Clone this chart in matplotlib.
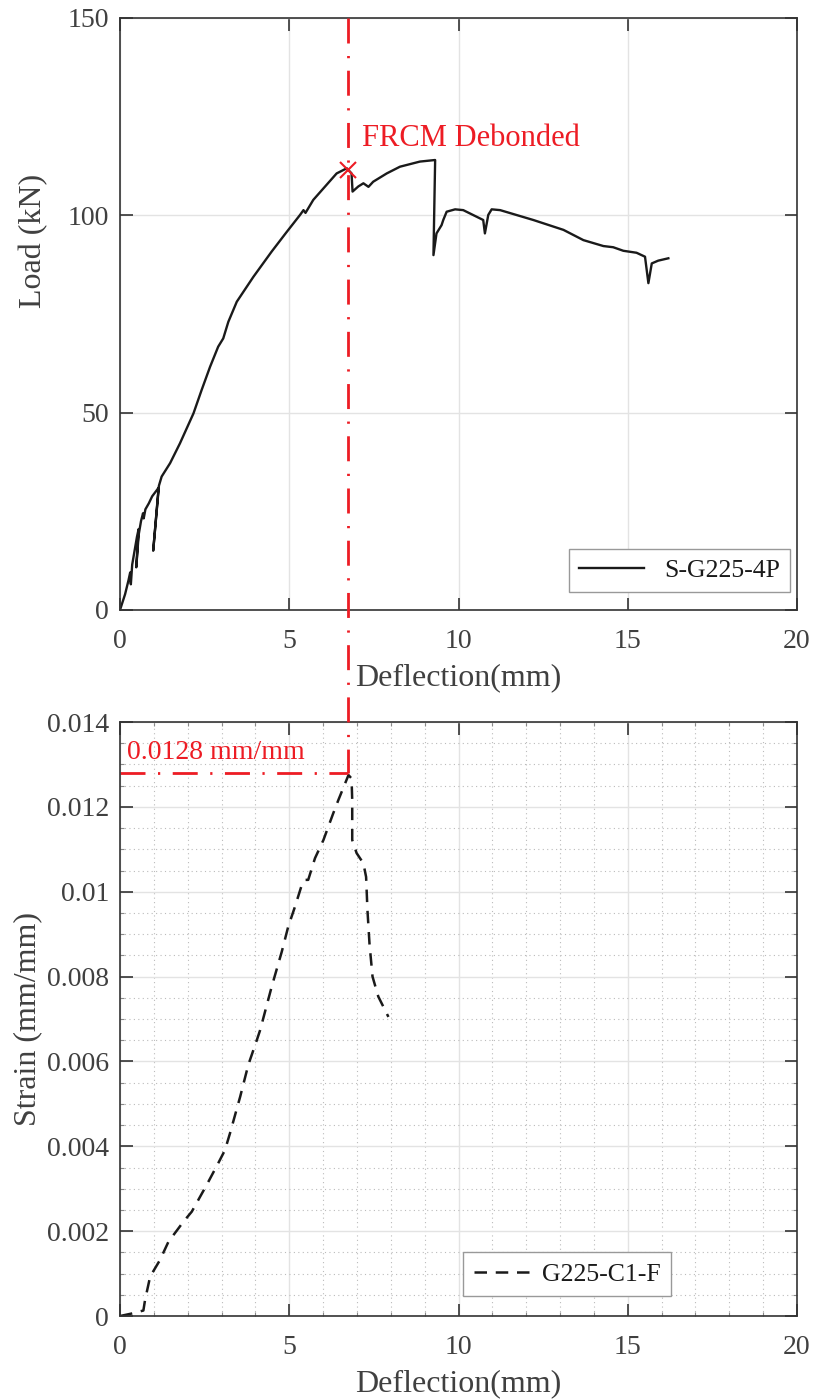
import numpy as np
import matplotlib.pyplot as plt
from matplotlib.lines import Line2D
from matplotlib.ticker import MultipleLocator, FormatStrFormatter

plt.rcParams['font.family'] = ['Liberation Serif', 'DejaVu Serif']

# Load-deflection of beam S-G225-4P
defl_load = [0, 0.15, 0.25, 0.30, 0.32, 0.36, 0.45, 0.50, 0.55, 0.48, 0.55, 0.62, 0.68, 0.70,
             0.75, 0.85, 0.95, 1.10, 1.14, 0.98, 1.15, 1.23, 1.48, 1.77, 2.17, 2.41, 2.66,
             2.90, 3.05, 3.20, 3.45, 3.94, 4.48, 4.90, 5.32, 5.42, 5.48, 5.71, 6.40, 6.70,
             6.84, 6.87, 7.04, 7.19, 7.34, 7.48, 7.88, 8.27, 8.86, 9.31, 9.26, 9.35, 9.50,
             9.55, 9.65, 9.90, 10.14, 10.73, 10.78, 10.88, 10.98, 11.23, 12.21, 13.10,
             13.69, 14.28, 14.57, 14.87, 15.26, 15.51, 15.61, 15.71, 15.90, 16.20]
load = [0, 4, 7.5, 9.5, 6.5, 11.5, 16, 18.5, 20.5, 10.8, 19, 22.5, 24.5, 23.2,
        25.5, 27, 28.8, 30.5, 31, 15, 31.5, 33.8, 37.2, 42.2, 49.8, 55.7, 61.6,
        66.7, 68.8, 73.0, 78.1, 84.4, 90.8, 95.5, 100.1, 101.3, 100.6, 103.9, 110.6, 111.9,
        110.6, 106, 107.3, 108.1, 107.2, 108.5, 110.6, 112.3, 113.6, 114.0, 89.9, 95.4, 97.5,
        98.8, 100.9, 101.5, 101.3, 98.8, 95.4, 100.1, 101.5, 101.3, 98.8, 96.3,
        93.7, 92.2, 91.9, 91.0, 90.5, 89.5, 82.8, 87.8, 88.5, 89.1]

# Strain gauge G225-C1-F
defl_strain = [0, 0.35, 0.69, 0.74, 0.89, 1.18, 1.43, 1.87, 2.12, 2.56, 2.90, 3.10, 3.25,
               3.55, 3.79, 4.04, 4.14, 4.48, 4.78, 4.97, 5.17, 5.37, 5.47, 5.56, 5.76,
               6.01, 6.30, 6.45, 6.75, 6.84, 6.86, 6.86, 6.99, 7.19, 7.27, 7.31, 7.37,
               7.46, 7.63, 7.93]
strain = [0, 0.00006, 0.00013, 0.00038, 0.00093, 0.00132, 0.00175, 0.00222, 0.00246,
          0.00309, 0.00360, 0.00391, 0.00431, 0.00517, 0.00592, 0.00650, 0.00674, 0.00776,
          0.00859, 0.00918, 0.00965, 0.01016, 0.01028, 0.01028, 0.01079, 0.01122, 0.01185,
          0.01216, 0.01275, 0.01267, 0.01216, 0.01122, 0.01091, 0.01067, 0.01035, 0.00957,
          0.00878, 0.00800, 0.00753, 0.00705]

x_debond = 6.75
load_debond = 111.5
strain_debond = 0.0128

red = '#ED1C24'
txt = '#404040'
dashdot = (0, (9, 4.5, 0.8, 4.5))

fig = plt.figure(figsize=(8.17, 13.99), dpi=100)
ax1 = fig.add_axes([0.1469, 0.5640, 0.8286, 0.4232])
ax2 = fig.add_axes([0.1469, 0.0593, 0.8286, 0.4246])

for ax in (ax1, ax2):
    for s in ax.spines.values():
        s.set_color('#333333')
        s.set_linewidth(1.2)
    ax.tick_params(which='major', direction='in', length=9, width=1.2, top=True, right=True,
                   labelsize=20, colors='#333333', labelcolor=txt, pad=8)
    ax.tick_params(axis='x', which='major', pad=14)
    ax.grid(True, which='major', color='#e3e3e3', linewidth=1)
    ax.set_axisbelow(True)
    ax.set_xlim(0, 20)
    ax.xaxis.set_major_locator(MultipleLocator(5))
    ax.set_xlabel('Deflection(mm)', fontsize=23, color=txt, labelpad=6)

# top: load
ax1.plot(defl_load, load, color='#1a1a1a', lw=1.7, label='S-G225-4P')
ax1.plot(x_debond, load_debond, 'x', color=red, ms=12, mew=1.5)
ax1.text(x_debond + 0.4, 119.5, 'FRCM Debonded', color=red, fontsize=22, va='center')
ax1.set_ylim(0, 150)
ax1.yaxis.set_major_locator(MultipleLocator(50))
ax1.set_ylabel('Load (kN)', fontsize=23, color=txt, labelpad=14)
ax1.yaxis.label.set_y(0.623)
leg1 = ax1.legend(loc='lower right', bbox_to_anchor=(0.99, 0.03), fontsize=18.5,
                  handlelength=2.5, fancybox=False, framealpha=1, borderaxespad=0)
leg1.get_frame().set_edgecolor('#999999')
for t in leg1.get_texts():
    t.set_color('#1a1a1a')

# bottom: strain
ax2.plot(defl_strain, strain, color='#1a1a1a', lw=1.8, ls=(0, (5, 3.5)), label='G225-C1-F')
ax2.set_ylim(0, 0.014)
ax2.yaxis.set_major_locator(MultipleLocator(0.002))
ax2.yaxis.set_major_formatter(FormatStrFormatter('%g'))
ax2.xaxis.set_minor_locator(MultipleLocator(1))
ax2.yaxis.set_minor_locator(MultipleLocator(0.0005))
ax2.tick_params(which='minor', direction='in', length=3, width=0.8, top=True, right=True,
                colors='#888888')
ax2.grid(True, which='minor', color='#bbbbbb', linestyle=(0, (1, 3)), linewidth=0.8)
ax2.set_ylabel('Strain (mm/mm)', fontsize=23, color=txt, labelpad=3)
ax2.plot([0, x_debond], [strain_debond, strain_debond], color=red, lw=2, ls=dashdot)
ax2.text(0.2, 0.01327, '0.0128 mm/mm', color=red, fontsize=20, va='center')
leg2 = ax2.legend(loc='lower left', bbox_to_anchor=(0.507, 0.034), fontsize=18.5,
                  handlelength=2.35, handletextpad=0.3, fancybox=False, framealpha=1,
                  borderaxespad=0)
leg2.get_frame().set_edgecolor('#999999')
for t in leg2.get_texts():
    t.set_color('#1a1a1a')

# vertical debonding line running from the top plot down into the strain plot
inv = fig.transFigure.inverted()
p_top = inv.transform(ax1.transData.transform((x_debond, 150)))
p_bot = inv.transform(ax2.transData.transform((x_debond, strain_debond)))
fig.add_artist(Line2D([p_top[0], p_bot[0]], [p_top[1], p_bot[1]], transform=fig.transFigure,
                      color=red, lw=2, ls=dashdot, zorder=5))

fig.savefig('out.png', dpi=100)
